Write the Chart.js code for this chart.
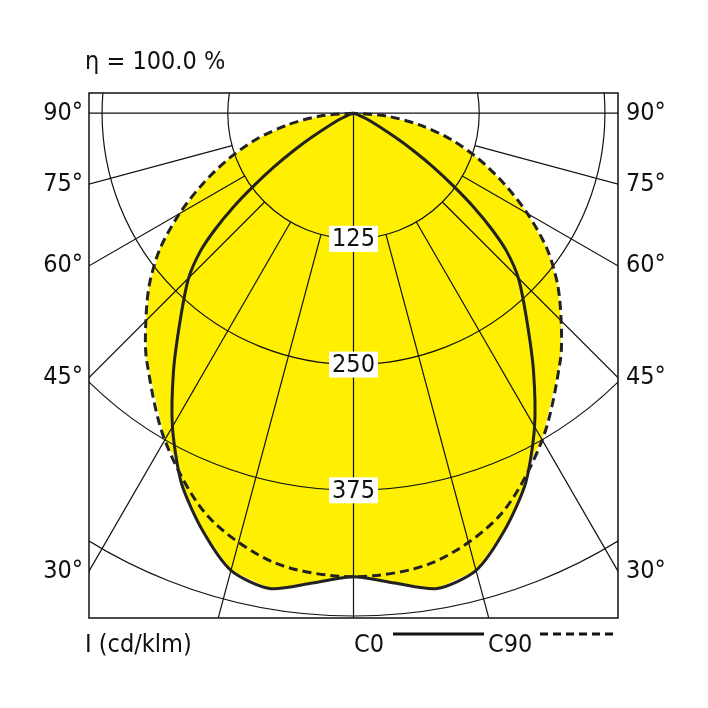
<!DOCTYPE html>
<html><head><meta charset="utf-8">
<script src="https://cdn.jsdelivr.net/npm/chart.js@4/dist/chart.umd.min.js"></script>
<style>body{margin:0;background:#fff}#w{width:708px;height:708px}</style>
</head><body><div id="w"><canvas id="c"></canvas></div>
<script>
const FONT = "'Liberation Sans Narrow','DejaVu Sans Condensed','Roboto Condensed',sans-serif";
const c0Angles = [0,5,10,15,20,25,30,35,40,45,48,50,52,54,56,58,60,65,72,90];
const c0Values = [460,468,479,470,440,405,360,312,268,232,205,180,152,122,95,70,48,18,4,0];
const c90Angles = [0,10,20,30,40,45,50,55,60,65,70,75,80,85,90];
const c90Values = [460,453,425,375,320,292,265,235,200,165,132,100,66,33,0];
const ringValues = [125,250,375,500];
const ringLabels = ['125','250','375'];
const spokeAngles = [15,30,45,60,75,90];
const angleLabels = ['90°','75°','60°','45°','30°'];
const angleLabelAt = [90,75,60,45,30];

function polar(angles, values){
  const pts=[];
  for(let i=angles.length-1;i>=0;i--){const t=-angles[i]*Math.PI/180;pts.push({x:values[i]*Math.sin(t),y:-values[i]*Math.cos(t)});}
  for(let i=1;i<angles.length;i++){const t=angles[i]*Math.PI/180;pts.push({x:values[i]*Math.sin(t),y:-values[i]*Math.cos(t)});}
  return pts;
}
const c0 = polar(c0Angles,c0Values), c90 = polar(c90Angles,c90Values);

const bg = {id:'bg',
 beforeDatasetsDraw(ch){
  const {ctx,chartArea:a,scales:{x,y}}=ch;
  const px=p=>[x.getPixelForValue(p.x),y.getPixelForValue(p.y)];
  ctx.save();
  ctx.beginPath();ctx.rect(a.left,a.top,a.right-a.left,a.bottom-a.top);ctx.clip();
  ctx.fillStyle='#ffef00';
  [c90,c0].forEach(d=>{ctx.beginPath();d.forEach((p,i)=>{const [X,Y]=px(p);i?ctx.lineTo(X,Y):ctx.moveTo(X,Y);});ctx.closePath();ctx.fill();});
  const cx=x.getPixelForValue(0), cy=y.getPixelForValue(0);
  const k=Math.abs(x.getPixelForValue(100)-cx)/100;
  ctx.strokeStyle='#111';ctx.lineWidth=1.2;
  ringValues.forEach(r=>{ctx.beginPath();ctx.arc(cx,cy,r*k,0,Math.PI*2);ctx.stroke();});
  ctx.beginPath();ctx.moveTo(cx,cy);ctx.lineTo(cx,a.bottom);ctx.stroke();
  const r0=ringValues[0]*k;
  spokeAngles.forEach(d=>{[-1,1].forEach(s=>{const t=s*d*Math.PI/180;const st=d===90?0:r0;ctx.beginPath();ctx.moveTo(cx+st*Math.sin(t),cy+st*Math.cos(t));ctx.lineTo(cx+1000*Math.sin(t),cy+1000*Math.cos(t));ctx.stroke();});});
  ctx.restore();
 },
 afterDatasetsDraw(ch){
  const {ctx,chartArea:a,scales:{x,y}}=ch;
  const cx=x.getPixelForValue(0), cy=y.getPixelForValue(0);
  const k=Math.abs(x.getPixelForValue(100)-cx)/100;
  ctx.save();
  ctx.font='25px '+FONT;ctx.textBaseline='middle';ctx.textAlign='center';
  ringLabels.forEach((l,i)=>{const Y=cy+ringValues[i]*k;const w=ctx.measureText(l).width+6;
    ctx.fillStyle='#fff';ctx.fillRect(cx-w/2,Y-13,w,26);ctx.fillStyle='#111';ctx.fillText(l,cx,Y+1);});
  angleLabels.forEach((l,i)=>{const t=angleLabelAt[i]*Math.PI/180;
    const yy=cy+(cx-a.left)/Math.tan(t);
    ctx.fillStyle='#111';ctx.textAlign='right';ctx.fillText(l,a.left-6,yy);ctx.textAlign='left';ctx.fillText(l,a.right+8,yy);});
  ctx.strokeStyle='#111';ctx.lineWidth=1.5;ctx.strokeRect(a.left,a.top,a.right-a.left,a.bottom-a.top);
  ctx.textAlign='left';ctx.fillText('η = 100.0 %',85,62);
  ctx.fillText('I (cd/klm)',85,645);
  ctx.fillText('C0',354,645);ctx.fillText('C90',488,645);
  ctx.lineWidth=3;ctx.beginPath();ctx.moveTo(393,634);ctx.lineTo(484,634);ctx.stroke();
  ctx.setLineDash([8,5]);ctx.beginPath();ctx.moveTo(540,634);ctx.lineTo(618,634);ctx.stroke();
  ctx.restore();
 }};

new Chart(document.getElementById('c'),{
 type:'scatter',
 data:{datasets:[
  {label:'C90',data:c90,showLine:true,borderColor:'#222',borderWidth:3,borderDash:[9,5],pointRadius:0,tension:0.3},
  {label:'C0',data:c0,showLine:true,borderColor:'#222',borderWidth:3,pointRadius:0,tension:0.25}]},
 options:{responsive:true,maintainAspectRatio:false,animation:false,
  layout:{padding:{left:89,right:90,top:93,bottom:90}},
  plugins:{legend:{display:false},tooltip:{enabled:false}},
  scales:{x:{type:'linear',min:-263,max:263,display:false},y:{type:'linear',min:-501,max:20,display:false}}},
 plugins:[bg]});
</script></body></html>
